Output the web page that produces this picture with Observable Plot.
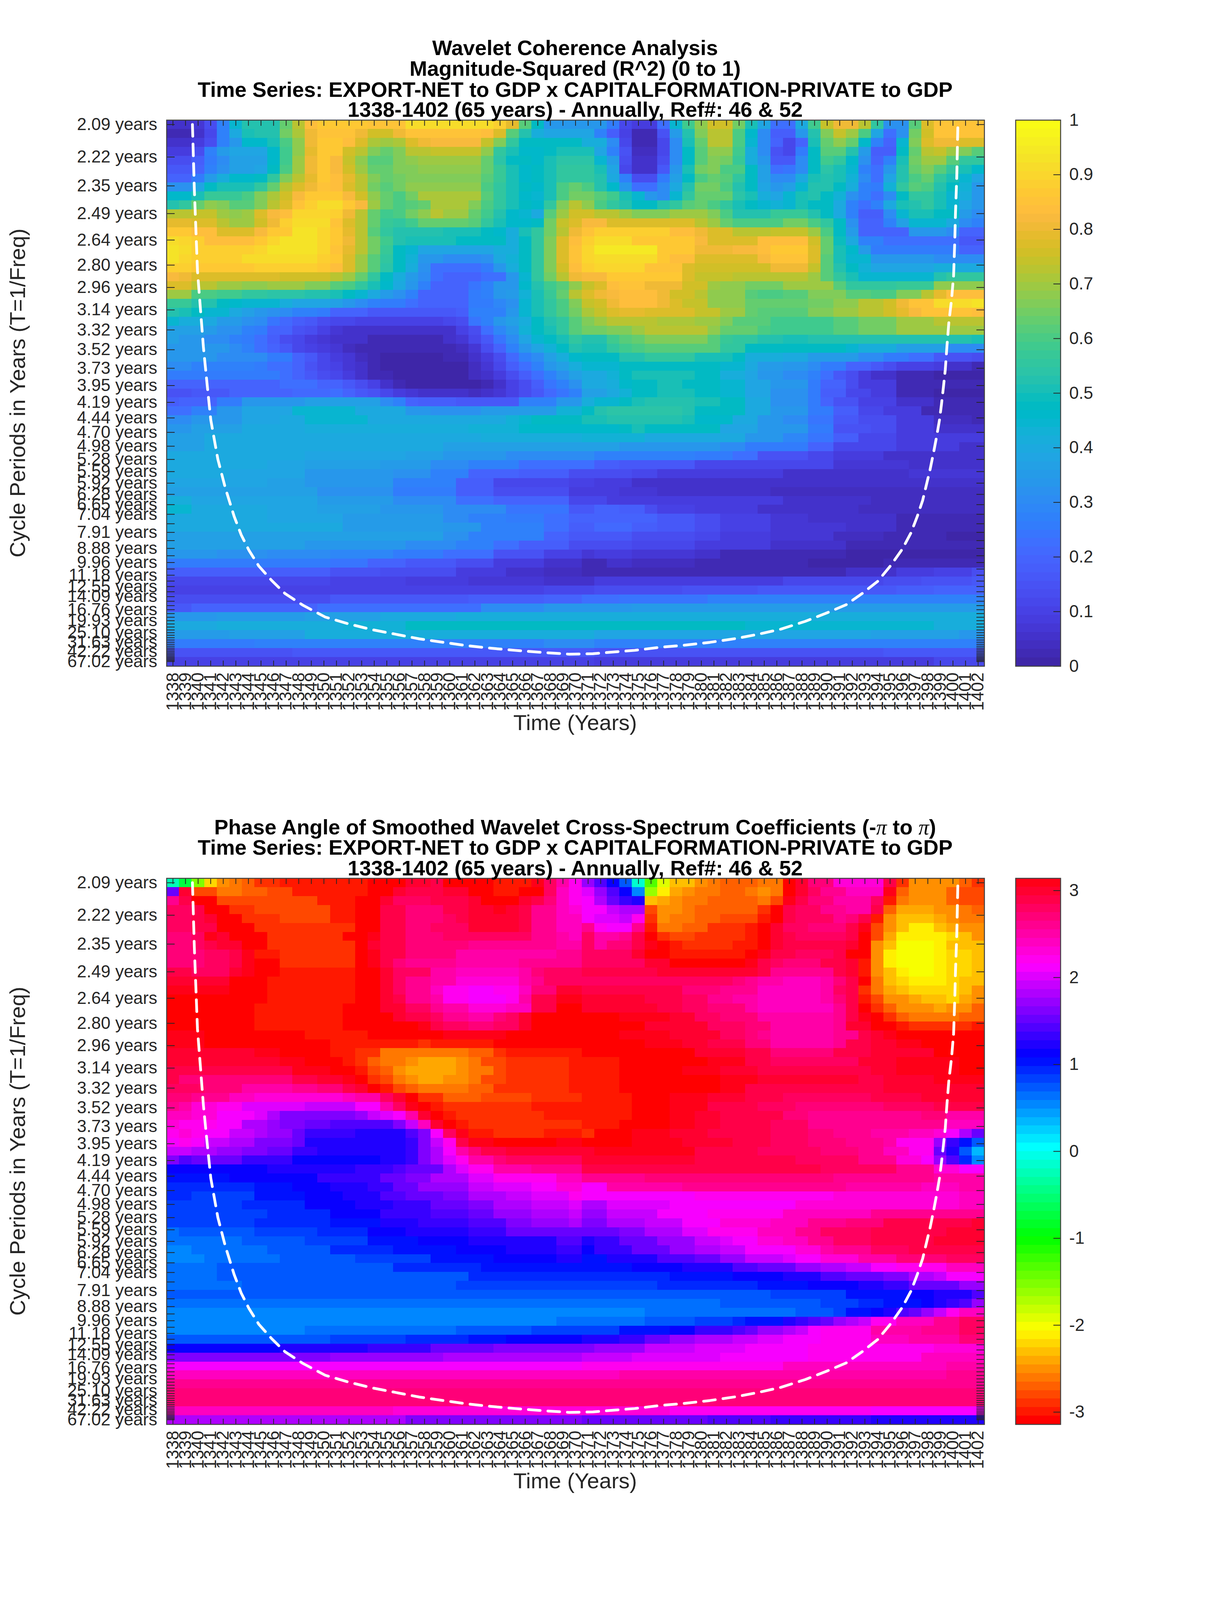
<!DOCTYPE html>
<html><head><meta charset="utf-8">
<script src="https://cdn.jsdelivr.net/npm/d3@7"></script>
<script src="https://cdn.jsdelivr.net/npm/@observablehq/plot@0.6"></script>
<style>
html,body{margin:0;padding:0;background:#fff}
#page{position:relative;width:3125px;height:4096px;overflow:hidden;background:#fff;font-family:"Liberation Sans",Arial,sans-serif;color:#262626}
#page svg{position:absolute;max-width:none}
.t{position:absolute;white-space:nowrap;transform:translate(-50%,-50%)}
.title{font-weight:bold;color:#000;font-size:54px;line-height:1}
.lab{font-size:56px;line-height:1}
</style></head><body><div id="page"></div>
<script>
const years = d3.range(1338, 1403);
const periods = [2.09,2.22,2.35,2.49,2.64,2.80,2.96,3.14,3.32,3.52,3.73,3.95,4.19,4.44,4.70,4.98,5.28,5.59,5.92,6.28,6.65,7.04,7.47,7.91,8.38,8.88,9.41,9.96,10.55,11.18,11.85,12.55,13.30,14.09,14.93,15.82,16.76,17.76,18.81,19.93,21.11,22.37,23.70,25.10,26.59,28.17,29.85,31.63,33.51,35.50,37.61,39.85,42.22,44.73,47.39,50.21,53.19,56.36,59.71,63.26,67.02];
const labelledPeriods = [2.09,2.22,2.35,2.49,2.64,2.80,2.96,3.14,3.32,3.52,3.73,3.95,4.19,4.44,4.70,4.98,5.28,5.59,5.92,6.28,6.65,7.04,7.91,8.88,9.96,11.18,12.55,14.09,16.76,19.93,25.10,31.63,42.22,67.02];
const freqTop = 0.4823, freqBottom = 0.0109, rowCount = 61;
const coiYears = [1339.55,1339.7,1339.95,1340.26,1340.42,1340.73,1341.01,1341.57,1342.16,1342.87,1343.43,1344.05,1344.83,1345.85,1346.91,1348.34,1350.11,1351.91,1353.8,1355.7,1357.59,1359.49,1361.41,1363.3,1365.2,1367.34,1369.49,1371.38,1373.15,1374.7,1376.79,1378.59,1380.67,1382.75,1384.52,1386.32,1388.25,1389.86,1391.5,1392.84,1394.02,1395.08,1395.98,1396.66,1397.16,1397.59,1397.9,1398.18,1398.49,1398.71,1398.93,1399.08,1399.24,1399.39,1399.52,1399.67,1399.89,1400.05,1400.14,1400.2,1400.3,1400.39];
const coiFreqs = [.4785,.4229,.3524,.3091,.2866,.2528,.2234,.1896,.1649,.1401,.1242,.1108,.0973,.0849,.0736,.0635,.0533,.0476,.0425,.0385,.0345,.0315,.0286,.0264,.0246,.0228,.0213,.0217,.0233,.0246,.0273,.029,.0315,.0348,.0385,.0429,.0496,.0564,.0639,.0741,.0842,.0982,.1121,.126,.1401,.154,.168,.1806,.1971,.2097,.2236,.2364,.2517,.2669,.287,.3073,.3277,.3482,.3765,.4019,.4328,.4785];

// Each row: start column, value, start column, value ... (coherence in hundredths)
const coherenceRows = [
[0,5,2,7,3,13,4,28,5,44,6,53,9,64,10,72,11,83,12,87,16,85,19,92,26,88,27,79,28,62,29,47,30,34,35,25,36,12,37,8,39,22,40,45,41,58,42,68,43,76,45,65,46,50,47,38,48,22,50,40,51,58,52,74,53,80,55,72,56,55,57,32,59,62,60,78,61,85],
[0,3,2,6,3,12,4,28,5,40,6,50,7,53,9,65,10,71,11,81,12,85,15,81,16,76,18,81,19,85,25,84,26,78,27,62,28,53,29,42,30,38,34,28,35,18,36,10,37,3,39,15,40,35,41,53,42,66,43,72,45,60,46,46,47,30,48,18,50,34,51,53,52,67,53,74,54,70,55,60,56,38,57,22,58,32,59,65,60,75,61,85],
[0,5,2,8,3,14,4,28,5,33,6,46,8,50,9,60,10,68,11,80,12,87,14,83,15,77,16,71,17,70,18,71,19,77,20,80,21,82,25,74,26,66,27,55,28,48,29,47,33,42,35,30,36,12,37,3,39,12,40,30,41,50,42,63,43,72,45,60,46,45,47,30,48,20,49,12,50,20,51,50,52,64,53,68,54,64,55,46,56,27,57,20,58,45,59,66,60,78,61,81,63,77],
[0,8,2,13,3,27,4,35,5,38,8,46,9,58,10,68,11,79,12,86,14,76,15,72,16,66,17,64,18,66,19,72,21,74,25,68,26,56,27,50,28,46,30,48,31,50,34,38,35,28,36,15,37,4,39,12,40,30,41,47,42,62,43,68,45,58,46,42,47,30,48,15,49,12,50,25,51,47,52,62,54,53,55,35,56,18,58,48,59,63,60,72,61,74,62,70,63,66,64,62],
[0,13,2,18,3,25,4,30,5,36,8,46,9,58,10,70,11,80,12,86,13,82,14,74,15,68,16,62,18,66,19,68,20,70,25,63,26,54,27,48,28,47,29,46,30,50,31,54,34,45,35,35,36,14,37,5,39,14,40,30,41,48,42,62,43,67,44,65,45,57,46,42,47,33,48,17,50,30,51,48,52,58,53,55,54,46,55,32,56,20,57,28,58,50,59,65,60,70,62,62,63,55],
[0,17,2,20,3,27,4,32,5,36,7,38,8,48,9,60,10,70,11,80,12,86,13,82,14,76,15,70,16,63,18,66,20,68,25,63,26,57,27,51,28,46,29,47,30,50,31,55,34,50,35,38,36,12,37,6,39,16,40,33,41,50,42,65,43,67,44,60,46,47,47,37,48,22,49,24,50,30,51,48,52,54,53,50,54,44,55,27,56,22,57,33,58,53,59,64,60,66,61,62,62,56,63,50,64,46],
[0,19,2,25,3,35,4,42,5,46,7,47,8,55,9,66,10,73,11,79,12,86,13,84,14,79,15,72,16,66,17,64,18,65,19,66,20,67,25,62,26,57,27,50,28,46,29,47,30,51,31,55,34,52,35,40,36,28,37,14,39,25,40,37,41,48,42,60,43,64,44,62,45,55,46,47,47,37,48,30,50,40,51,50,52,53,53,50,54,43,55,30,56,22,57,38,58,52,59,60,60,64,61,56,62,50,63,44,64,38],
[0,32,2,38,3,48,4,50,6,51,7,56,8,64,9,72,10,77,11,80,12,85,13,84,14,77,15,72,16,65,17,62,18,65,19,68,25,60,26,55,27,50,28,47,29,46,30,51,31,60,32,64,33,60,34,53,35,46,36,33,37,22,39,30,40,40,41,52,42,65,44,60,45,52,46,47,47,38,48,33,49,37,50,45,51,52,53,47,54,42,55,28,56,25,57,43,58,55,59,62,60,60,61,53,62,47,63,43,64,33],
[0,46,2,50,3,57,6,60,7,66,8,71,9,75,10,82,11,87,14,82,15,76,16,68,17,63,18,60,19,65,20,71,25,62,26,55,27,50,28,46,29,45,30,50,31,60,32,65,34,62,35,58,36,50,37,45,38,33,39,30,40,45,41,55,42,63,45,54,46,50,47,42,48,38,49,45,50,50,51,52,52,48,53,43,54,32,55,27,56,23,57,30,58,48,59,55,60,56,61,50,62,45,63,42,64,33],
[0,53,1,56,2,63,3,68,4,67,5,62,7,66,8,72,9,78,10,85,11,88,12,91,14,87,15,82,16,70,17,63,18,60,19,62,20,64,21,71,24,67,25,60,26,55,27,50,28,47,29,46,30,55,31,67,32,72,33,68,34,60,35,55,36,52,37,47,39,52,40,55,41,62,42,64,43,60,44,55,45,50,46,47,47,45,48,43,49,45,50,50,51,48,52,47,53,40,54,28,55,23,56,28,57,40,58,50,59,53,60,55,61,50,62,44,63,38,64,33],
[0,72,2,74,4,70,5,68,6,70,7,77,8,82,9,84,10,90,13,88,14,80,15,73,16,64,17,58,18,60,19,65,20,68,21,72,22,69,24,64,25,58,26,52,27,46,28,45,29,40,30,62,31,70,32,75,34,73,36,70,37,66,40,69,43,66,44,60,45,53,48,57,51,52,52,48,53,40,54,28,55,18,57,30,58,45,59,50,61,47,63,35,64,30],
[0,79,2,78,4,73,5,70,7,75,8,80,9,88,10,91,13,85,14,78,15,72,16,63,17,57,18,55,19,59,20,64,24,61,25,56,26,50,27,46,29,47,30,65,31,74,32,78,33,82,35,78,36,77,42,72,43,70,44,64,45,60,49,65,51,60,52,55,53,47,54,32,55,20,57,28,58,37,59,45,62,40,63,30,64,27],
[0,87,2,84,4,78,7,82,8,87,10,93,12,90,13,87,14,79,15,72,16,62,17,55,18,52,22,50,25,48,26,46,27,42,28,50,29,55,30,65,31,73,32,80,33,85,34,88,40,84,42,80,43,77,45,72,48,74,51,70,52,60,53,47,54,35,55,20,59,33,62,30,63,20],
[0,91,1,90,2,88,3,84,7,86,8,90,9,93,12,90,13,86,14,80,15,72,16,65,17,58,18,52,19,50,23,48,24,47,27,42,28,47,29,55,30,67,31,78,32,84,33,88,34,92,37,87,42,82,43,78,47,83,51,76,52,63,53,49,54,40,55,27,57,23,63,17],
[0,93,1,91,2,88,7,90,8,93,12,90,13,85,14,79,15,72,16,65,17,57,18,47,19,45,20,38,26,42,28,47,29,55,30,67,31,78,32,85,33,90,34,94,39,87,42,80,45,82,47,83,48,87,51,78,52,64,53,50,54,46,55,35,56,25,63,20],
[0,93,1,90,2,88,6,91,12,88,13,86,14,78,15,70,16,62,17,56,18,47,19,43,20,33,22,30,25,32,26,40,27,43,28,48,29,55,30,66,31,77,32,85,33,90,34,92,39,86,40,83,42,78,47,82,48,85,51,77,52,62,53,50,54,45,56,33,61,30],
[0,88,2,86,7,88,12,86,13,83,14,77,15,70,16,62,17,54,18,47,19,42,20,32,21,22,25,25,26,33,27,42,28,48,29,55,30,66,31,75,32,83,33,88,34,90,38,85,41,77,42,75,48,80,51,74,52,62,53,52,54,47,55,43,56,38,61,42,63,40],
[0,82,1,80,2,77,9,76,13,72,14,69,15,63,16,56,17,48,18,42,19,35,20,30,21,22,22,19,25,22,27,33,28,45,29,55,30,65,31,73,32,80,33,82,35,87,41,78,42,74,45,72,51,70,52,62,53,55,54,50,55,45,61,52,62,55],
[0,77,2,72,4,70,6,68,8,70,11,66,13,62,14,60,15,56,16,50,17,46,18,40,19,33,20,27,21,20,24,24,25,27,26,34,28,46,29,52,30,58,31,62,32,68,33,74,34,78,35,83,36,85,38,80,41,75,43,70,44,68,46,65,49,70,53,62,54,55,58,57,61,68],
[0,70,2,60,4,58,6,56,8,54,11,53,12,52,13,50,14,47,15,44,16,40,17,35,18,32,19,27,20,20,23,19,24,25,25,28,26,33,27,35,28,43,29,51,30,57,31,63,32,72,33,78,34,80,35,82,36,83,39,81,40,76,42,72,43,68,46,62,47,60,49,62,51,67,54,62,56,60,58,66,60,72,61,79,62,84],
[0,57,2,52,4,48,5,46,6,45,9,42,10,39,13,36,14,34,15,30,16,27,17,25,19,22,20,19,23,20,24,26,26,29,27,32,28,44,29,50,30,56,31,60,32,67,33,74,34,76,35,80,36,84,39,80,40,77,41,74,43,68,46,63,51,65,53,68,55,72,57,75,58,80,59,85,61,91,64,93],
[0,53,1,50,2,47,3,45,5,40,6,37,7,34,8,32,9,31,10,28,11,27,12,25,13,20,16,16,23,18,24,27,27,33,28,45,29,50,30,55,31,60,32,65,33,71,34,74,35,77,36,79,38,77,39,78,42,74,44,69,46,64,47,62,51,66,53,69,55,73,57,76,58,79,59,82,60,85,64,83],
[0,45,1,42,3,40,4,35,6,32,7,30,8,24,9,21,10,18,11,16,12,13,13,11,15,10,22,11,23,13,24,24,25,28,26,33,27,37,28,42,29,47,30,52,31,56,32,62,33,67,34,70,35,72,39,71,42,70,44,67,45,62,48,58,53,62,55,65,58,70,61,73],
[0,37,3,35,4,32,6,28,7,25,8,19,10,15,11,13,12,10,13,7,14,6,16,5,22,6,23,10,24,14,25,22,26,29,27,34,28,43,29,47,30,50,31,55,32,62,33,65,35,67,37,70,38,72,43,68,44,63,47,60,48,58,53,62,55,65,58,70],
[0,36,1,34,3,30,5,28,6,25,7,22,8,18,9,14,10,12,11,9,12,7,13,5,16,3,22,5,23,7,24,12,25,17,26,24,27,31,28,38,29,44,30,48,31,50,32,56,33,53,35,58,36,62,37,64,38,67,43,62,44,57,45,55,47,53,49,50,51,52,58,53,64,50],
[0,33,5,30,6,27,7,23,8,20,9,17,10,12,11,10,12,8,13,7,14,4,15,3,16,2,23,4,24,7,25,13,26,20,27,27,28,33,29,38,30,43,31,47,32,53,33,50,35,55,36,58,37,60,38,62,44,55,46,48,50,47,54,45,55,42,58,37,62,30],
[0,33,4,30,8,26,10,20,11,16,12,12,13,9,14,7,15,4,16,2,17,1,22,2,24,6,25,8,26,14,27,21,28,27,29,31,30,37,31,42,32,46,33,48,35,47,36,52,38,55,42,50,45,48,46,42,49,40,51,35,55,30,57,26,59,22,61,17,62,15,64,13],
[0,30,2,28,7,26,8,22,10,19,11,15,12,12,13,10,14,7,15,5,16,3,17,1,18,0,22,1,24,4,25,7,26,12,27,18,28,23,29,28,30,33,31,37,32,41,33,44,35,45,36,47,39,48,42,47,44,44,46,40,47,35,49,33,51,30,52,25,54,20,56,17,57,14,58,10,61,8,62,5,64,2],
[0,26,2,25,9,22,10,20,11,17,12,14,13,12,14,8,15,6,16,3,17,2,18,0,23,1,24,4,25,6,26,9,27,14,28,18,29,23,30,27,31,32,32,37,33,40,35,43,36,47,37,50,42,47,44,42,46,38,47,33,49,30,51,27,52,22,53,17,54,13,55,8,56,6,58,3,61,1],
[0,19,3,20,9,22,12,20,14,16,15,14,16,10,17,6,18,3,19,1,20,0,24,1,25,3,26,6,27,10,28,14,29,18,30,24,31,28,32,32,33,40,35,42,36,46,37,48,39,50,41,48,44,45,46,38,48,33,51,25,52,20,54,13,55,8,58,2],
[0,15,2,17,5,19,10,21,13,23,14,20,15,17,16,15,17,12,18,9,19,7,20,5,24,4,25,5,26,7,27,10,28,13,29,17,30,21,31,24,32,28,33,36,35,40,36,43,37,47,39,50,42,48,44,45,46,38,48,32,51,25,52,18,54,12,56,8,58,2,61,1],
[0,18,1,20,4,25,6,33,11,36,17,30,18,27,19,20,20,18,23,17,28,28,31,33,33,42,34,45,36,47,37,50,38,53,42,50,44,47,46,40,48,32,51,25,52,20,53,15,55,10,58,5,61,2],
[0,22,2,27,4,33,6,38,10,45,15,40,19,34,21,32,25,35,31,43,33,47,34,52,35,54,41,53,42,47,46,40,48,33,51,25,53,18,55,12,57,9,60,2],
[0,30,2,33,6,38,9,40,11,45,16,40,27,43,28,45,29,47,32,48,33,50,35,52,41,50,42,46,45,40,47,34,49,30,51,24,53,17,55,13,58,8,61,4,64,2],
[0,33,2,36,6,40,11,41,24,43,28,46,36,47,37,50,38,47,44,39,47,33,51,25,53,15,56,13,58,8,61,6],
[0,36,3,40,25,41,33,43,38,40,46,33,49,29,51,24,53,18,55,12,58,8],
[0,37,3,40,22,37,36,34,44,31,46,25,51,20,53,12,58,8,63,6],
[0,40,11,39,19,37,22,33,27,30,34,28,42,25,45,22,47,15,51,11,53,8,57,6],
[0,40,8,39,11,37,17,35,21,30,24,27,28,22,34,18,36,16,42,12,53,7,59,5],
[0,40,5,38,11,34,18,32,21,28,24,20,28,18,32,13,37,12,39,8,49,6,59,7],
[0,38,8,37,11,33,18,27,23,18,26,12,32,10,34,8,37,6,43,5],
[0,37,8,36,12,32,18,25,23,18,26,14,32,9,36,7,39,6,44,5,48,4],
[0,42,2,39,8,38,12,35,18,30,23,23,26,20,32,12,35,9,39,8,49,5,56,4],
[0,45,2,40,8,39,12,37,17,33,22,30,27,24,32,17,34,20,36,18,38,14,39,10,42,9,47,5,55,4],
[0,40,8,38,14,35,22,31,24,28,27,26,30,23,32,20,37,19,39,16,42,13,44,10,48,7,51,5,58,3],
[0,40,14,35,22,33,25,27,30,22,32,18,34,21,37,18,39,17,42,13,44,10,48,7,54,5,58,3],
[0,37,22,32,24,28,30,20,32,16,37,14,42,12,44,9,48,7,53,4,57,3,62,1],
[0,36,11,33,19,30,23,27,26,22,28,18,32,13,37,11,42,9,44,8,48,5,54,2],
[0,33,4,32,8,31,13,29,18,26,22,22,26,15,30,10,33,7,34,9,37,7,42,5,44,3,54,1],
[0,25,8,26,13,24,16,20,19,17,23,13,26,9,30,6,33,3,35,5,37,4,42,3,45,2,51,1,57,2,63,3],
[0,18,13,15,17,13,23,9,27,6,30,4,33,2,54,6,58,8,61,10,64,13],
[0,11,13,10,19,9,24,7,30,5,34,8,49,11,53,12,57,13,60,15,64,16],
[0,10,30,12,34,13,41,15,47,16,52,17,58,18,61,20],
[0,13,3,14,13,16,24,18,30,20,33,22,36,24,43,27,63,28],
[0,17,2,20,12,23,25,30,30,34,37,35],
[0,33,4,35,11,37,17,40,23,42],
[0,40,4,42,14,43,19,47,34,48,46,45,61,41],
[0,35,5,37,11,41,34,38,56,36,63,33],
[0,26,7,28,30,30,34,27],
[0,15,10,17,34,15,57,16],
[0,10,34,9,61,11]
];

// Each row: start column, value ... (phase angle in hundredths of a radian)
const phaseRows = [
[0,-20,1,-70,2,-155,3,-225,4,-250,5,-258,6,-272,7,-285,9,-297,13,-302,16,314,19,300,21,290,22,314,24,-305,26,-300,29,305,30,280,31,255,32,225,33,170,34,140,35,108,36,72,37,-15,38,-137,39,-188,40,-229,41,-235,42,-248,43,-262,44,-270,47,-262,49,-305,50,295,51,270,53,235,56,228,57,285,58,-285,59,-248,62,-255,63,-270,64,-285],
[0,155,1,300,2,-275,4,-262,6,-270,8,-283,10,-297,15,-302,16,314,18,300,19,285,22,295,24,314,25,-307,26,-300,28,-307,29,314,30,280,31,245,32,222,33,200,34,170,35,140,36,110,37,55,38,-160,39,-212,40,-236,41,-255,42,-262,44,-270,46,-262,47,-250,48,-262,49,314,50,295,51,280,52,260,54,240,56,245,57,305,58,-270,59,-248,61,-255,62,-270,63,-275,64,-282],
[0,260,1,285,2,314,3,-307,4,-283,12,-297,15,-307,16,314,17,298,18,275,21,285,24,298,25,314,26,-307,28,300,29,285,30,270,31,245,32,225,33,210,34,185,35,150,36,130,37,118,38,-228,39,-237,40,-250,41,-262,43,-270,47,-262,48,-282,49,305,50,285,51,268,53,247,56,275,57,-295,58,-262,59,-250,61,-255,62,-270,63,-275,64,-282],
[0,275,2,285,3,314,4,-305,5,-290,7,-283,13,-295,15,-305,16,314,17,285,19,272,22,285,24,295,26,310,27,300,28,285,29,265,31,240,32,232,33,210,35,190,36,178,38,-275,39,-250,41,-256,42,-270,47,-285,48,-305,49,290,50,275,52,260,54,255,56,292,57,-268,58,-236,61,-248,62,-255,63,-262,64,-272],
[0,275,2,285,3,300,4,314,5,-305,6,-292,9,-283,13,-295,15,-305,16,314,17,285,19,270,22,280,23,290,24,298,28,290,29,265,31,240,33,212,34,205,36,190,37,225,38,-285,39,-255,40,-262,42,-270,44,-282,47,-295,48,314,49,292,50,275,53,260,54,272,55,285,56,-300,57,-255,58,-228,61,-236,62,-248,63,-262],
[0,275,2,285,4,314,5,-305,7,-290,15,-305,16,314,17,290,19,270,21,275,24,295,28,285,29,265,31,245,33,260,34,225,35,207,37,258,38,-295,39,-262,41,-270,43,-287,46,-295,47,-305,48,295,49,275,51,268,54,288,55,305,56,-282,57,-248,58,-226,59,-212,61,-226,62,-236,63,-248,64,-255],
[0,268,2,280,3,305,4,295,5,314,7,-305,8,-293,14,-305,16,305,17,290,19,272,22,275,29,262,31,255,32,245,33,275,34,250,36,258,37,285,38,-305,39,-285,40,-275,42,-286,46,-300,47,314,48,300,49,285,50,278,54,292,55,314,56,-275,57,-240,58,-212,62,-222,63,-235,64,-248],
[0,270,2,275,3,285,4,295,5,300,6,314,7,-305,8,-293,15,-305,16,298,17,285,19,268,24,262,28,258,31,250,33,280,34,252,35,272,37,292,38,305,39,-307,40,-296,41,-287,45,-300,47,314,48,300,49,285,54,298,55,-308,56,-255,57,-228,58,-200,61,-208,62,-226,64,-235],
[0,270,3,280,5,290,6,310,7,-300,9,-290,15,-305,16,305,17,285,19,270,23,255,31,258,33,278,37,298,38,314,40,-300,43,-295,46,-307,47,305,48,285,50,278,53,292,54,-308,56,-250,57,-212,58,-198,61,-207,62,-220,64,-235],
[0,270,3,275,5,290,6,305,7,314,8,-305,9,-293,15,-305,16,305,17,285,18,270,19,262,23,250,28,262,31,265,33,278,38,298,40,-312,42,314,46,305,47,285,48,280,49,272,52,290,54,298,55,-295,56,-248,57,-212,58,-202,61,-208,62,-222,64,-235],
[0,285,2,280,5,295,6,305,7,-307,9,-295,15,-305,16,314,17,298,18,275,21,250,23,240,28,255,29,270,30,275,31,278,33,285,39,298,47,292,48,258,53,288,54,300,55,-300,56,-255,57,-226,58,-212,59,-200,61,-210,62,-222,64,-235],
[0,298,5,314,7,-305,8,-295,15,-305,16,314,17,298,18,280,19,265,21,250,23,232,26,235,28,250,29,265,30,280,33,283,45,272,46,262,47,252,49,245,52,250,53,272,54,285,55,314,56,-262,57,-235,58,-222,59,-212,62,-222,63,-235],
[0,305,5,314,7,-305,8,-295,15,-305,16,314,17,300,18,280,19,262,21,245,22,225,24,215,26,225,28,245,29,272,31,295,33,290,41,268,44,258,47,243,52,255,53,275,54,292,55,-285,56,-262,57,-240,58,-228,59,-222,63,-226,64,-248],
[0,314,6,-305,8,-295,15,-305,16,314,17,300,18,285,19,265,21,250,22,225,24,215,27,225,28,250,29,285,31,305,33,300,38,290,41,278,43,262,45,252,47,243,52,250,53,272,54,285,55,-300,56,-275,57,-255,58,-248,59,-236,60,-228,62,-222,63,-236,64,-255],
[0,314,4,-305,7,-295,14,-305,16,314,17,295,19,280,21,265,22,250,24,235,27,245,29,290,31,314,33,300,39,287,41,275,43,268,46,252,47,243,53,265,54,285,55,314,56,-287,57,-268,58,-250,61,-243,62,-248,64,-268],
[0,314,3,-305,7,-297,14,-307,16,314,18,300,19,290,21,275,22,262,24,255,26,268,27,280,28,295,29,314,31,-307,36,305,40,295,42,280,44,268,47,250,53,265,54,285,55,305,56,-305,57,-292,58,-270,59,-262,63,-270],
[0,314,4,-307,7,-297,14,-305,17,314,20,305,21,290,22,278,24,270,26,280,28,298,29,314,38,298,43,283,46,270,48,250,53,260,54,295,56,314,57,-305,58,-295,59,-290,60,-285,64,-295],
[0,305,3,314,8,-307,11,-297,16,-305,20,314,22,305,27,314,36,305,40,295,42,300,44,280,46,270,47,262,48,252,53,262,55,285,56,300,57,305,58,314,60,-305],
[0,305,3,314,9,-307,13,-297,20,-285,21,-295,26,-305,33,-307,38,305,41,295,43,285,46,272,48,255,53,262,54,285,56,300,58,305,60,314],
[0,298,5,295,7,305,9,314,11,-307,13,-295,15,-285,17,-265,19,-258,24,-270,26,-285,27,-295,31,-297,33,-305,34,-312,39,-307,42,300,46,285,48,268,53,285,56,300,61,314],
[0,295,7,300,9,305,11,314,12,-307,14,-297,15,-285,16,-270,17,-262,19,-250,20,-243,23,-250,24,-262,25,-278,27,-287,28,-292,32,-300,33,-295,36,-307,40,314,43,305,46,292,48,280,55,295,58,305,63,314],
[0,285,8,292,10,305,13,314,14,-307,15,-297,16,-280,17,-268,18,-255,19,-243,23,-252,24,-265,26,-275,27,-287,28,-292,32,-302,33,-295,36,314,41,305,44,295,47,290,56,298,58,310,63,314],
[0,285,1,272,10,285,12,295,14,305,15,-307,16,-292,17,-275,18,-262,19,-252,20,-240,22,-255,24,-262,25,-275,27,-292,32,-302,33,-295,36,314,44,305,47,295,55,290,57,300,61,305],
[0,280,3,268,6,250,10,258,12,270,14,285,15,298,16,314,17,-300,18,-280,19,-268,20,-262,24,-270,26,-285,28,-292,32,-300,33,-295,36,-310,40,314,44,305,46,290,55,285,57,295,61,300],
[0,272,2,262,5,245,7,232,14,238,15,255,17,280,18,300,19,-305,20,-285,22,-272,25,-277,29,-292,33,-300,37,314,40,305,43,295,46,288,49,280,56,288,60,295],
[0,265,1,250,2,232,4,220,6,205,11,195,15,208,16,215,17,252,18,280,19,305,20,314,21,-300,22,-285,29,-297,33,-300,37,314,40,305,43,290,47,280,50,272,57,278,61,285],
[0,240,1,245,2,232,4,213,7,200,8,180,9,165,12,158,15,170,16,190,17,205,18,210,19,255,20,295,21,314,22,-297,23,-287,29,-285,30,-297,37,-307,40,305,42,295,44,285,49,272,51,262,60,268,62,255],
[0,230,1,220,4,210,6,185,8,175,9,165,11,150,13,145,18,160,19,190,20,245,21,300,22,-305,23,-295,24,-285,29,-290,33,-295,36,314,40,305,42,295,44,285,48,275,51,262,60,258,62,240],
[0,225,1,235,2,225,3,215,4,208,5,195,7,185,8,172,10,155,11,135,15,120,19,145,20,165,21,210,22,282,23,305,24,-297,26,-285,29,-290,30,-297,33,-285,34,-307,37,305,40,298,43,290,46,285,48,275,51,268,53,262,56,248,59,240,61,235,62,210,63,185,64,155],
[0,215,1,220,2,215,3,195,5,185,7,165,10,150,11,120,19,130,20,165,21,190,22,225,23,290,24,305,26,-310,28,314,31,305,33,314,37,305,41,298,45,290,48,280,51,272,54,265,57,250,58,225,61,170,62,130,63,100,64,75],
[0,195,2,182,4,172,6,160,8,150,10,135,12,118,19,130,20,165,21,185,22,215,23,250,24,272,25,285,27,295,29,298,33,300,34,305,42,290,47,280,52,272,55,262,57,245,59,220,61,155,62,118,63,75,64,30],
[0,160,1,145,2,152,6,132,10,115,17,125,19,135,20,165,21,180,22,200,23,225,24,255,26,268,27,282,33,298,34,300,42,290,50,275,55,260,58,232,60,210,61,170,62,140,63,95,64,50],
[0,115,8,120,15,130,18,140,19,150,22,180,23,200,24,220,26,250,29,265,33,285,52,275,58,262,61,230,63,215],
[0,100,1,102,5,110,9,115,12,130,16,135,17,150,19,160,21,185,24,205,26,225,31,245,33,258,38,270,53,260,61,250],
[0,93,3,90,7,102,10,115,13,125,16,135,18,152,20,170,24,190,26,200,29,215,31,235,33,215,35,250,41,262,54,250,60,245,63,255],
[0,90,2,88,7,100,11,112,14,125,17,140,19,150,22,165,24,180,27,190,29,205,32,220,33,210,42,225,53,235,63,245],
[0,85,6,95,11,110,15,125,18,135,21,150,24,165,26,180,29,190,32,200,33,185,35,205,40,215,50,230,63,245],
[0,85,8,95,13,115,17,130,21,140,24,150,26,170,29,185,32,190,33,175,35,195,39,210,43,225,49,240,56,260],
[0,85,7,90,13,100,17,118,20,130,24,145,27,160,29,172,32,180,33,165,35,180,38,195,41,215,44,230,48,245,51,262,54,270,57,285,60,290,64,295],
[0,60,1,70,7,85,12,95,16,110,19,120,24,135,27,150,36,165,38,185,41,200,43,218,47,240,50,262,52,278,54,282,56,288,59,292,62,295],
[0,60,2,68,6,75,11,85,16,100,20,115,24,125,31,140,33,125,34,135,36,150,39,170,42,190,44,200,45,215,47,232,49,245,51,262,53,275,56,285,59,290,61,300],
[0,55,2,68,8,78,13,90,18,100,23,115,27,125,31,130,33,115,34,135,37,150,40,170,42,180,44,195,46,210,50,232,52,250,53,265,56,280,59,285,62,292],
[0,58,3,68,9,78,15,85,21,100,26,110,31,120,33,105,35,120,39,140,42,150,44,170,46,190,49,205,50,215,52,230,55,250,58,270,62,280],
[0,60,4,70,10,78,18,90,25,100,32,105,37,115,41,125,45,145,47,155,50,170,52,185,54,195,56,210,58,225,62,240],
[0,62,4,72,13,75,18,78,24,90,34,98,40,105,45,115,49,125,52,140,54,150,57,165,59,180,61,195,62,210],
[0,62,6,75,23,82,33,85,39,98,47,100,51,110,55,120,57,130,59,150,61,155,63,175],
[0,72,30,76,33,78,48,85,54,100,57,102,59,110,61,118,62,125,64,145],
[0,65,44,72,52,80,55,90,57,100,60,110,61,118,62,128,63,142,64,170],
[0,52,38,62,47,68,50,78,53,88,54,100,55,105,56,112,57,122,58,140,59,155,60,175,61,195,62,218,63,240],
[0,52,31,65,38,72,42,80,45,90,46,100,48,105,49,120,50,130,51,145,52,155,53,170,54,185,55,195,56,225,58,245,61,265,63,275],
[0,52,11,62,23,75,29,85,36,100,38,103,40,115,42,130,43,135,45,142,46,155,47,170,49,180,50,195,51,210,52,225,56,250,60,262,63,275],
[0,75,13,82,19,95,24,102,27,115,33,125,36,135,38,155,40,170,42,178,45,190,47,200,49,215,52,225,56,240,59,255,63,270],
[0,115,9,125,16,135,21,150,26,160,34,172,38,188,42,200,46,210,51,218,61,235],
[0,158,13,172,22,185,33,190,37,205,44,215,51,225,60,240],
[0,208,21,212,33,218,36,225,49,240,62,250],
[0,245,36,250,62,262],
[0,258,33,262],
[0,268],
[0,268],
[0,245,18,235,40,225,56,215],
[0,178,19,165,33,155,43,145,48,135,56,125]
];

const parulaRgb = [[.2422,.1504,.6603],[.2504,.165,.7076],[.2578,.1818,.7511],[.2647,.1978,.7952],[.2706,.2147,.8364],[.2751,.2342,.871],[.2783,.2559,.8991],[.2803,.2782,.9221],[.2813,.3006,.9414],[.281,.3228,.9579],[.2795,.3447,.9717],[.276,.3667,.9829],[.2699,.3892,.9906],[.2602,.4123,.9952],[.244,.4358,.9988],[.2206,.4603,.9973],[.1963,.4847,.9892],[.1834,.5074,.9798],[.1786,.5289,.9682],[.1764,.5499,.952],[.1687,.5703,.9359],[.154,.5902,.9218],[.146,.6091,.9079],[.138,.6276,.8973],[.1248,.6459,.8883],[.1113,.6635,.8763],[.0952,.6798,.8598],[.0689,.6948,.8394],[.0297,.7082,.8163],[.0036,.7203,.7917],[.0067,.7312,.766],[.0433,.7411,.7394],[.0964,.75,.712],[.1408,.7584,.6842],[.1717,.767,.6554],[.1938,.7758,.6251],[.2161,.7843,.5923],[.247,.7918,.5567],[.2906,.7973,.5188],[.3406,.8008,.4789],[.3909,.8029,.4354],[.4456,.8024,.3909],[.5044,.7993,.348],[.5616,.7942,.3045],[.6174,.7876,.2612],[.672,.7793,.2227],[.7242,.7698,.191],[.7738,.7598,.1646],[.8203,.7498,.1535],[.8634,.7406,.1596],[.9035,.733,.1774],[.9393,.7288,.21],[.9728,.7298,.2394],[.9956,.7434,.2371],[.997,.7659,.2199],[.9952,.7861,.1989],[.9892,.8135,.1885],[.9786,.8386,.1766],[.9676,.8639,.1643],[.961,.889,.1537],[.9597,.9135,.1423],[.9628,.9373,.1265],[.9691,.9606,.1064],[.9769,.9839,.0805]];
const parula = parulaRgb.map(([r,g,b]) => d3.rgb(r*255,g*255,b*255).formatHex());
const hsv64 = d3.range(64).map(i => d3.hsl(i/64*360,1,.5).formatHex());

const expandRow = row => {
  const out = [];
  for (let i = 0; i < row.length; i += 2) {
    const end = i + 2 < row.length ? row[i+2] : years.length;
    for (let c = row[i]; c < end; c++) out.push(row[i+1]);
  }
  return out;
};
const rowFreq = r => freqTop - r*(freqTop-freqBottom)/rowCount;
const ink = "#262626";
const coi = coiYears.map((y,i) => ({year:y, freq:coiFreqs[i]}));
const page = document.getElementById("page");
const fontStyle = {fontFamily:'"Liberation Sans",Arial,sans-serif', fontSize:"44px", color:ink, background:"transparent"};
const svgHeight = 1900, marginTop = 307, marginBottom = 195, secondPanelOffset = 1941;

function panel(rows, toValue, domain, range, top) {
  const cells = rows.flatMap((row,r) => expandRow(row).map((v,c) => ({year:years[c], r, v:toValue(v)})));
  const tickFreqs = periods.map(p => 1/p);
  const svg = Plot.plot({
    width:2560, height:svgHeight, marginLeft:426, marginRight:41, marginTop, marginBottom,
    style:fontStyle,
    x:{domain:[1337.5,1402.5], axis:null, label:null},
    y:{domain:[freqBottom,freqTop], axis:null, label:null},
    color:{type:"quantize", domain, range},
    marks:[
      Plot.rect(cells,{x1:d=>d.year-.5,x2:d=>d.year+.5,y1:d=>rowFreq(d.r),y2:d=>rowFreq(d.r+1),fill:"v",shapeRendering:"crispEdges"}),
      Plot.line(coi,{x:"year",y:"freq",stroke:"white",strokeWidth:7,strokeDasharray:"30,20",curve:"linear"}),
      Plot.axisY(tickFreqs,{anchor:"left",tickSize:21,dx:21,fill:"none",stroke:ink,strokeWidth:2,label:null}),
      Plot.axisY(tickFreqs,{anchor:"right",tickSize:21,dx:-21,fill:"none",stroke:ink,strokeWidth:2,label:null}),
      Plot.axisX(years,{anchor:"bottom",tickSize:14,dy:-14,fill:"none",stroke:ink,strokeWidth:2,label:null}),
      Plot.axisX(years,{anchor:"top",tickSize:14,dy:14,fill:"none",stroke:ink,strokeWidth:2,label:null}),
      Plot.axisY(labelledPeriods.map(p=>1/p),{anchor:"left",tickSize:0,tickPadding:24,fill:ink,label:null,tickFormat:f=>(1/f).toFixed(2)+" years"}),
      Plot.axisX(years,{anchor:"bottom",tickSize:0,tickPadding:16,tickRotate:-90,fill:ink,label:null,tickFormat:d=>String(d)}),
      Plot.frame({stroke:"#404040",strokeWidth:2.5})
    ]
  });
  svg.style.left = "0px"; svg.style.top = top+"px";
  page.appendChild(svg);
}
function colorbar(domain, range, ticks, top) {
  const n = range.length, [a,b] = domain;
  const bands = d3.range(n).map(i => ({lo:a+(b-a)*i/n, hi:a+(b-a)*(i+1)/n, mid:a+(b-a)*(i+.5)/n}));
  const svg = Plot.plot({
    width:536, height:svgHeight, marginLeft:10, marginRight:411, marginTop, marginBottom,
    style:fontStyle,
    x:{domain:[0,1], axis:null, label:null},
    y:{domain, axis:null, label:null},
    color:{type:"quantize", domain, range},
    marks:[
      Plot.rect(bands,{x1:0,x2:1,y1:"lo",y2:"hi",fill:"mid",shapeRendering:"crispEdges"}),
      Plot.axisY(ticks,{anchor:"right",tickSize:19,dx:-19,fill:"none",stroke:ink,strokeWidth:2,label:null}),
      Plot.axisY(ticks,{anchor:"right",tickSize:0,tickPadding:22,fill:ink,label:null,tickFormat:d=>String(d)}),
      Plot.frame({stroke:"#404040",strokeWidth:2.5})
    ]
  });
  svg.style.left = "2589px"; svg.style.top = top+"px";
  page.appendChild(svg);
}
function text(cls, html, x, y, extra) {
  const d = document.createElement("div");
  d.className = "t "+cls; d.innerHTML = html;
  d.style.left = x+"px"; d.style.top = y+"px";
  if (extra) d.style.transform = extra;
  page.appendChild(d);
}

const phaseValue = v => v === 314 ? -Math.PI : v/100;
panel(coherenceRows, v=>v/100, [0,1], parula, 0);
colorbar([0,1], parula, [0,.1,.2,.3,.4,.5,.6,.7,.8,.9,1], 0);
panel(phaseRows, phaseValue, [-Math.PI,Math.PI], hsv64, secondPanelOffset);
colorbar([-Math.PI,Math.PI], hsv64, [-3,-2,-1,0,1,2,3], secondPanelOffset);

const series = "Time Series: EXPORT-NET to GDP x CAPITALFORMATION-PRIVATE to GDP";
const span = "1338-1402 (65 years) - Annually, Ref#: 46 &amp; 52";
text("title","Wavelet Coherence Analysis",1472,122);
text("title","Magnitude-Squared (R^2) (0 to 1)",1472,175);
text("title",series,1472,229);
text("title",span,1472,280);
const pi = '<i style="font-family:\'Liberation Serif\',serif;font-weight:normal">π</i>';
text("title",`Phase Angle of Smoothed Wavelet Cross-Spectrum Coefficients (-${pi} to ${pi})`,1472,2117);
text("title",series,1472,2169);
text("title",span,1472,2222);
text("lab","Time (Years)",1472,1850);
text("lab","Time (Years)",1472,3791);
const rot = "translate(-50%,-50%) rotate(-90deg)";
text("lab","Cycle Periods in Years (T=1/Freq)",45,1006,rot);
text("lab","Cycle Periods in Years (T=1/Freq)",45,2947,rot);
</script></body></html>
